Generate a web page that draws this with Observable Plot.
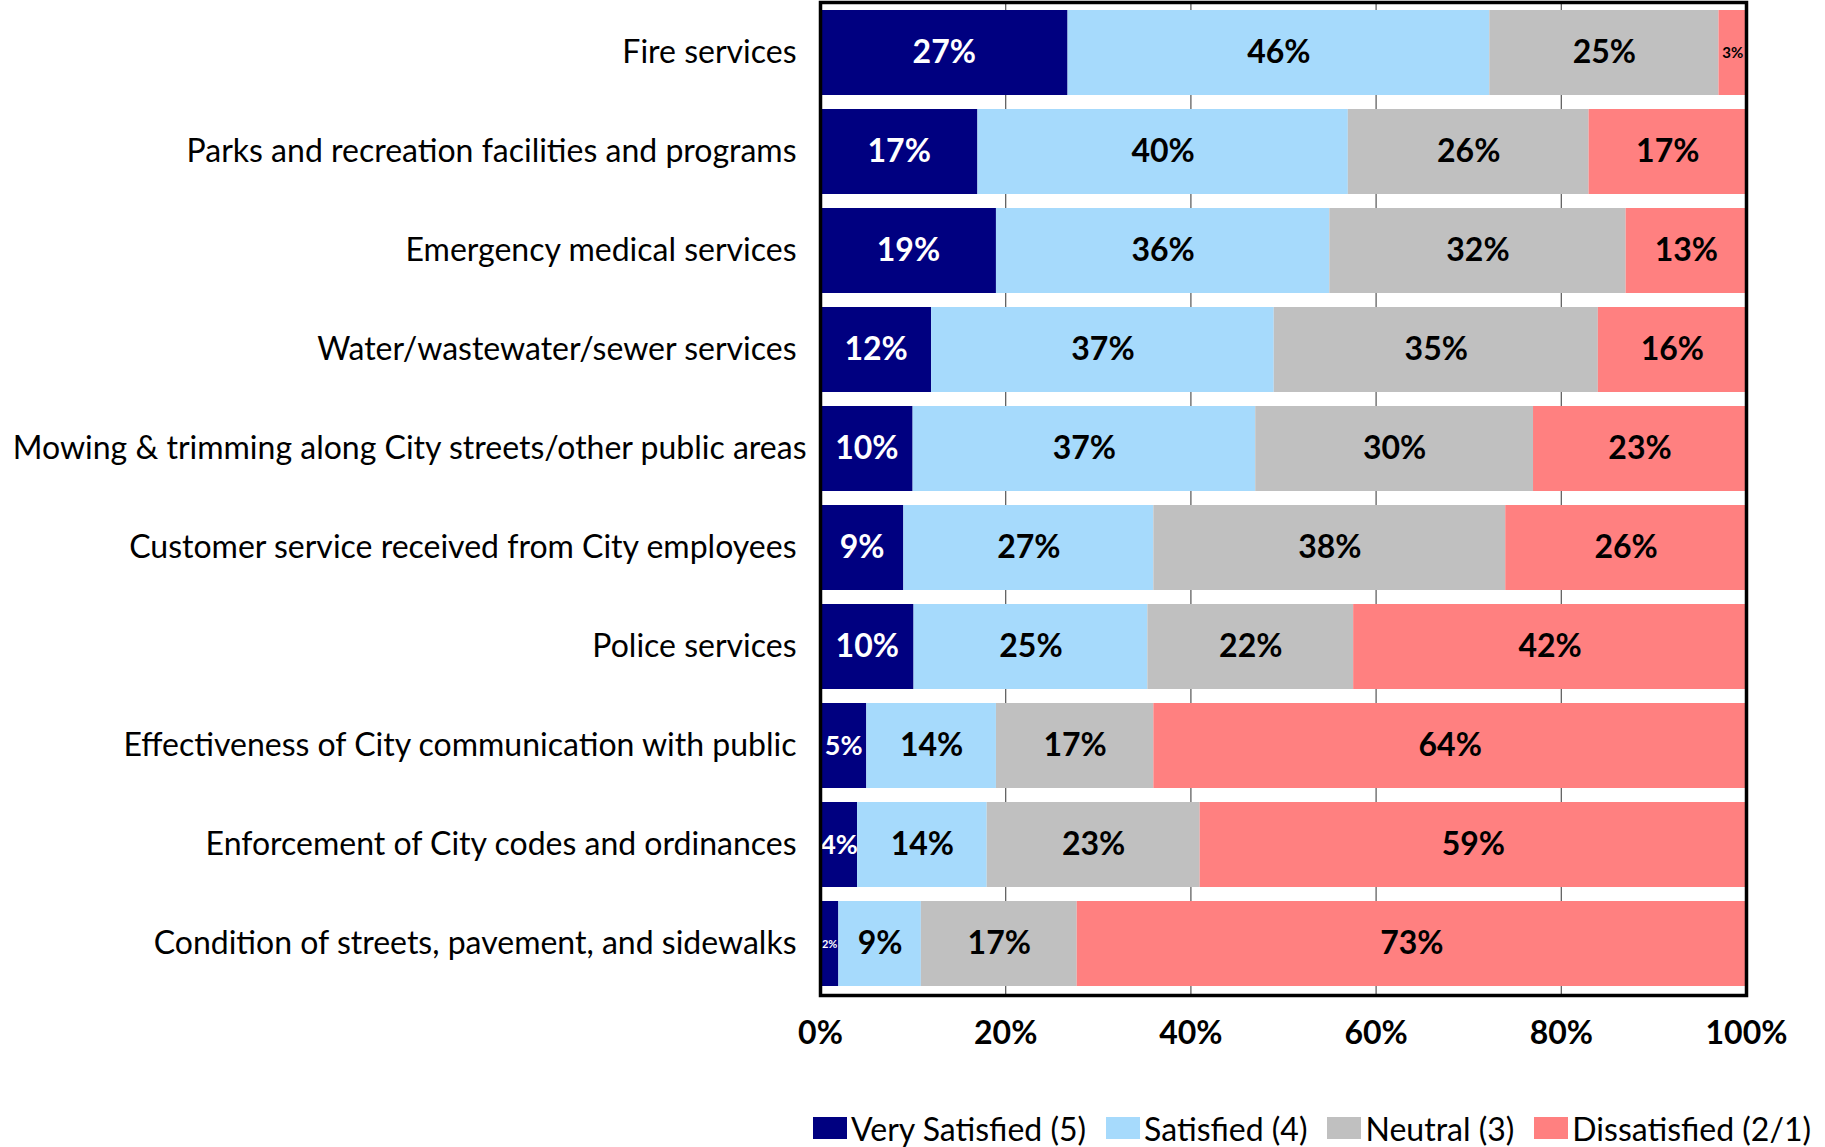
<!DOCTYPE html>
<html>
<head>
<meta charset="utf-8">
<script src="https://cdn.jsdelivr.net/npm/d3@7"></script>
<script src="https://cdn.jsdelivr.net/npm/@observablehq/plot@0.6"></script>
<style>
  html, body { margin: 0; padding: 0; background: #fff; }
  body { width: 1825px; height: 1147px; overflow: hidden; font-family: Lato, "Noto Sans", sans-serif; }
  #chart svg { display: block; }
  #legend { display: flex; align-items: center; margin-left: 813px; margin-top: 33px; height: 40px; font-size: 32px; color: #000; }
  #legend .item { display: flex; align-items: center; margin-right: 20px; white-space: nowrap; }
  #legend .sw { width: 34px; height: 22px; margin-right: 4px; }
</style>
</head>
<body>
<div id="chart"></div>
<div id="legend"></div>
<script>
const items = [
  "Fire services",
  "Parks and recreation facilities and programs",
  "Emergency medical services",
  "Water/wastewater/sewer services",
  "Mowing & trimming along City streets/other public areas",
  "Customer service received from City employees",
  "Police services",
  "Effectiveness of City communication with public",
  "Enforcement of City codes and ordinances",
  "Condition of streets, pavement, and sidewalks"
];
const levels = ["Very Satisfied (5)", "Satisfied (4)", "Neutral (3)", "Dissatisfied (2/1)"];
const verySatisfied = [27, 17, 19, 12, 10, 9, 10, 5, 4, 2];
const satisfied     = [46, 40, 36, 37, 37, 27, 25, 14, 14, 9];
const neutral       = [25, 26, 32, 35, 30, 38, 22, 17, 23, 17];
const dissatisfied  = [3, 17, 13, 16, 23, 26, 42, 64, 59, 73];
const colors = ["#000080", "#A6DAFC", "#C0C0C0", "#FF8080"];
const xTicks = [0, 0.2, 0.4, 0.6, 0.8, 1];
const xTickLabels = ["0%", "20%", "40%", "60%", "80%", "100%"];

const series = [verySatisfied, satisfied, neutral, dissatisfied];
const data = [];
items.forEach((item, i) => {
  levels.forEach((level, j) => {
    data.push({item, level, value: series[j][i]});
  });
});

const longest = items.reduce((a, b) => (b.length > a.length ? b : a));
const stackOpts = {x: "value", y: "item", z: "level", order: levels, offset: "normalize"};
const labelSize = d => d.value >= 6 ? 32 : d.value >= 4 ? 27 : d.value >= 3 ? 15 : 11;

const chart = Plot.plot({
  width: 1825,
  height: 1075,
  marginTop: 2,
  marginBottom: 80,
  marginLeft: 820,
  marginRight: 79,
  style: {fontFamily: "Lato, 'Noto Sans', sans-serif", color: "#000", background: "#fff"},
  x: {domain: [0, 1], label: null},
  y: {domain: items, paddingInner: 0.14, paddingOuter: 0.07, label: null},
  color: {domain: levels, range: colors},
  marks: [
    Plot.ruleX(xTicks.slice(1, -1), {stroke: "#555", strokeWidth: 1.2}),
    Plot.barX(data, Plot.stackX({...stackOpts, fill: "level"})),
    Plot.text(data, Plot.stackX({...stackOpts,
      text: d => d.level === levels[0] ? d.value + "%" : null,
      fill: "white", fontWeight: "bold", fontSize: labelSize})),
    Plot.text(data, Plot.stackX({...stackOpts,
      text: d => d.level !== levels[0] ? d.value + "%" : null,
      fill: "black", fontWeight: "bold", fontSize: labelSize})),
    Plot.axisY({ticks: items.filter(d => d !== longest), tickSize: 0, tickPadding: 24, fontSize: 32, label: null}),
    Plot.axisY({ticks: [longest], tickSize: 0, tickPadding: 14, fontSize: 32, label: null}),
    Plot.axisX({ticks: xTicks, tickFormat: (d, i) => xTickLabels[i], tickSize: 0, tickPadding: 26,
      fontSize: 32, fontWeight: "bold", label: null}),
    Plot.frame({stroke: "black", strokeWidth: 3.5})
  ]
});
document.getElementById("chart").appendChild(chart);

const legend = document.getElementById("legend");
levels.forEach((level, j) => {
  const it = document.createElement("div");
  it.className = "item";
  const sw = document.createElement("span");
  sw.className = "sw";
  sw.style.background = colors[j];
  const lab = document.createElement("span");
  lab.textContent = level;
  it.appendChild(sw);
  it.appendChild(lab);
  legend.appendChild(it);
});
</script>
</body>
</html>
